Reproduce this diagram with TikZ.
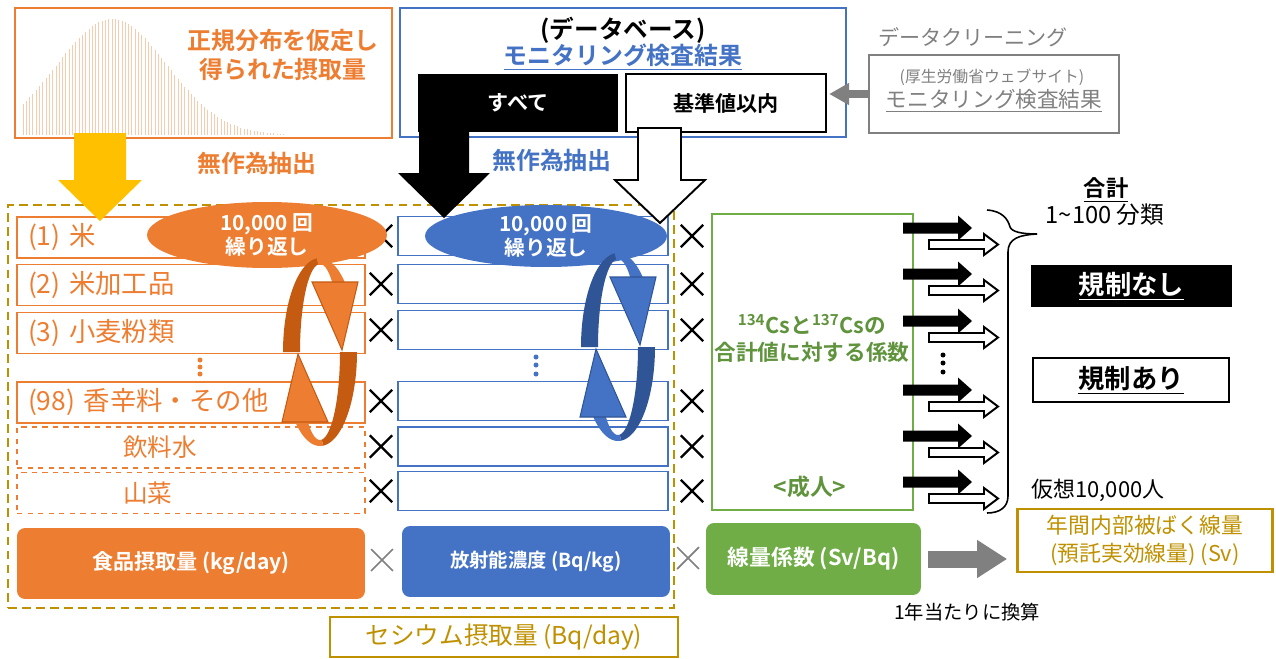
\documentclass[tikz,border=0pt]{standalone}
\usepackage{fontspec}
\setmainfont{Noto Sans CJK JP}[BoldFont={Noto Sans CJK JP Bold}]
\usetikzlibrary{shapes.geometric, shapes.misc, arrows.meta}

\definecolor{orangeC}{HTML}{ED7D31}
\definecolor{orangeD}{HTML}{C55A11}
\definecolor{blueC}{HTML}{4472C4}
\definecolor{blueD}{HTML}{2F5597}
\definecolor{greenC}{HTML}{70AD47}
\definecolor{goldC}{HTML}{BF9000}
\definecolor{grayC}{HTML}{808080}
\definecolor{yellowC}{HTML}{FFC000}

\begin{document}
\begin{tikzpicture}[x=0.02cm, y=-0.02cm,
  histbar/.style={draw=orangeC!40, line width=0.5pt},
  rowbox/.style={draw=orangeC, line width=1.1pt, minimum width=6.96cm, minimum height=0.82cm,
    text width=6.52cm, align=left, inner xsep=0.22cm, inner ysep=0pt, text=orangeC,
    font=\fontsize{15}{18}\selectfont},
  concrow/.style={draw=blueC, line width=0.9pt, minimum width=5.4cm, minimum height=0.78cm},
  times/.style={cross out, draw, line width=1.4pt, minimum size=0.4cm, inner sep=0pt},
  loop/.style={ellipse, inner sep=0pt, text=white, align=center,
    font=\bfseries\fontsize{11.8}{14}\selectfont},
  unitbox/.style={rounded corners=0.16cm, text=white, minimum width=6.96cm, minimum height=1.42cm,
    font=\bfseries\fontsize{12}{14}\selectfont},
  bighead/.style={font=\bfseries\fontsize{13.6}{17}\selectfont},
  greentext/.style={text=greenC!85!black, align=center, font=\bfseries\fontsize{12.3}{15.3}\selectfont}
]
\useasboundingbox (0,0) rectangle (1276,659);

% normal distribution of intake
\node[draw=orangeC, line width=1.3pt, minimum width=7.54cm, minimum height=2.6cm] (hist) at (203.5,73) {};
\foreach \i in {0,...,79} {
  \pgfmathsetmacro\bx{23+3.3*\i}
  \pgfmathsetmacro\bz{(\bx-112)/55}
  \pgfmathsetmacro\bh{116*exp(-0.5*\bz*\bz)}
  \draw[histbar] (\bx,135) -- (\bx,135-\bh);
}
\node[bighead, text=orangeC, align=center] (histtitle) at (283,55) {正規分布を仮定し\\得られた摂取量};
\node[bighead, text=orangeC] (randA) at (257,163) {無作為抽出};

% database
\node[draw=blueC, line width=1.4pt, minimum width=8.92cm, minimum height=2.58cm] (db) at (623,72.5) {};
\node[font=\bfseries\fontsize{14}{17}\selectfont] (dbtitle) at (623,30) {(データベース)};
\node[bighead, text=blueC] (dbname) at (623,57) {\underline{モニタリング検査結果}};
\node[fill=black, text=white, minimum width=4cm, minimum height=1.16cm,
  font=\bfseries\fontsize{12}{14}\selectfont] (all) at (518,103) {すべて};
\node[draw, fill=white, line width=0.9pt, minimum width=4cm, minimum height=1.16cm,
  font=\bfseries\fontsize{12}{14}\selectfont] (within) at (726,103) {基準値以内};
\node[bighead, text=blueC] (randB) at (552,160) {無作為抽出};

% web source
\node[text=grayC, font=\fontsize{12}{14}\selectfont] (clean) at (973,37) {データクリーニング};
\node[draw=grayC, line width=0.9pt, minimum width=5cm, minimum height=1.56cm] (web) at (994,94) {};
\node[text=grayC, font=\fontsize{9}{11}\selectfont] (webtop) at (992,77) {(厚生労働省ウェブサイト)};
\node[text=grayC, font=\fontsize{12.3}{14}\selectfont] (webname) at (994,101) {\underline{モニタリング検査結果}};
\draw[grayC, line width=0.18cm, -{Triangle[length=0.4cm, width=0.42cm]}] (web.west) -- ([xshift=-0.36cm]db.east |- web.west);

% cesium intake
\node[draw=goldC, line width=1.4pt, dash pattern=on 5pt off 3pt, minimum width=13.32cm, minimum height=8.06cm] (cs) at (341,406.5) {};

\node[rowbox] (f1) at (191,237.5) {(1) 米};
\node[rowbox] (f2) at (191,285) {(2) 米加工品};
\node[rowbox] (f3) at (191,333) {(3) 小麦粉類};
\node[rowbox] (f4) at (191,402.5) {(98) 香辛料・その他};
\node[rowbox, dashed, font=\fontsize{14}{17}\selectfont] (f5) at (191,447.5) {\hspace*{1.9cm}飲料水};
\node[rowbox, dashed, font=\fontsize{14}{17}\selectfont] (f6) at (191,493) {\hspace*{1.9cm}山菜};
\foreach \y in {360,367,374} \fill[orangeC] (200,\y) circle[radius=0.05cm];

\foreach \y [count=\i] in {236,284,330,401,446.5,491} {
  \node[concrow] (c\i) at (533,\y) {};
  \node[times] (xa\i) at (381,\y) {};
  \node[times] (xb\i) at (692,\y) {};
}
\foreach \y in {357,365,374} \fill[blueC] (536,\y) circle[radius=0.05cm];

\node[loop, fill=orangeC, minimum width=4.8cm, minimum height=1.32cm] (loopA) at (267,235) {10,000 回\\繰り返し};
\node[loop, fill=blueC, minimum width=4.84cm, minimum height=1.24cm] (loopB) at (546,236) {10,000 回\\繰り返し};

% repeat arrows
\foreach \dx/\dy/\dk/\lt in {0/0/orangeD/orangeC, 298/-5/blueD/blueC} {
  \begin{scope}[shift={(\dx,\dy)}]
    \fill[\dk] plot[domain=180:265, samples=30] ({320+37*cos(\x)}, {352+94*sin(\x)})
      -- plot[domain=265:180, samples=30] ({320+20*cos(\x)}, {352+88*sin(\x)}) -- cycle;
    \fill[\lt] plot[domain=265:312, samples=20] ({320+37*cos(\x)}, {352+94*sin(\x)})
      -- plot[domain=312:265, samples=20] ({320+20*cos(\x)}, {352+88*sin(\x)}) -- cycle;
    \filldraw[fill=\lt, draw=\dk, line width=0.6pt] (312,282) -- (358,282) -- (342,350) -- cycle;
    \fill[\dk] plot[domain=0:85, samples=30] ({320+37*cos(\x)}, {352+94*sin(\x)})
      -- plot[domain=85:0, samples=30] ({320+20*cos(\x)}, {352+88*sin(\x)}) -- cycle;
    \fill[\lt] plot[domain=85:132, samples=20] ({320+37*cos(\x)}, {352+94*sin(\x)})
      -- plot[domain=132:85, samples=20] ({320+20*cos(\x)}, {352+88*sin(\x)}) -- cycle;
    \filldraw[fill=\lt, draw=\dk, line width=0.6pt] (328,422) -- (282,422) -- (298,354) -- cycle;
  \end{scope}
}

% sampling arrows
\fill[yellowC] (74,133) -- (126,133) -- (126,180) -- (142,180) -- (100,221) -- (58,180) -- (74,180) -- cycle;
\fill[black] (419,130) -- (469,130) -- (469,173) -- (490,173) -- (444,218) -- (398,173) -- (419,173) -- cycle;
\draw[line width=1.1pt, fill=white] (638,128) -- (681,128) -- (681,180) -- (705,180) -- (660,223) -- (615,180) -- (638,180) -- cycle;

% dose coefficients
\node[draw=greenC, line width=1.1pt, minimum width=4.02cm, minimum height=5.92cm] (coef) at (812.5,362) {};
\node[greentext] (coeftitle) at (812,338.5) {\textsuperscript{134}Csと\textsuperscript{137}Csの\\合計値に対する係数};
\node[greentext, font=\bfseries\fontsize{13}{15}\selectfont] (adult) at (810,487) {<成人>};

\foreach \y in {228,274,321,390,436,482} {
  \fill (903,\y-5.5) -- (958,\y-5.5) -- (958,\y-12.5) -- (972,\y) -- (958,\y+12.5) -- (958,\y+5.5) -- (903,\y+5.5) -- cycle;
  \draw[line width=1.1pt, fill=white] (929,\y+12) -- (984,\y+12) -- (984,\y+6) -- (998,\y+16.5)
    -- (984,\y+27) -- (984,\y+21) -- (929,\y+21) -- cycle;
}
\foreach \y in {355,363,372} \fill (943,\y) circle[radius=0.05cm];

\draw[line width=0.9pt] (987,210) .. controls (1002,211) and (1008,219) .. (1010,227)
  .. controls (1012,232) and (1022,234) .. (1037,234);
\draw[line width=0.9pt] (1037,234) .. controls (1020,235) and (1008,238) .. (1008,252) -- (1008,496)
  .. controls (1008,507) and (1000,513) .. (987,513);

\node[font=\bfseries\fontsize{12.7}{15}\selectfont] (total) at (1106,190) {\underline{合計}};
\node[font=\fontsize{13.5}{16}\selectfont] (range) at (1105,215) {1\textasciitilde 100 分類};
\node[fill=black, text=white, minimum width=4.02cm, minimum height=0.84cm,
  font=\bfseries\fontsize{15}{18}\selectfont] (noreg) at (1131.5,286) {\underline{規制なし}};
\node[draw, line width=1.4pt, minimum width=3.92cm, minimum height=0.88cm,
  font=\bfseries\fontsize{15}{18}\selectfont] (reg) at (1131,380) {\underline{規制あり}};
\node[font=\fontsize{12.5}{14}\selectfont] (people) at (1098,490) {仮想10,000人};

% bottom line
\node[unitbox, fill=orangeC] (intake) at (191,563.5) {食品摂取量 (kg/day)};
\node[unitbox, fill=blueC, minimum width=5.36cm, font=\bfseries\fontsize{11}{13}\selectfont] (conc) at (536,561.5) {放射能濃度 (Bq/kg)};
\node[unitbox, fill=greenC, minimum width=4.3cm, minimum height=1.44cm, font=\bfseries\fontsize{12.4}{15}\selectfont] (dcoef) at (813.5,559) {線量係数 (Sv/Bq)};
\node[times, draw=grayC, line width=1pt] (xc1) at (382,560) {};
\node[times, draw=grayC, line width=1pt] (xc2) at (688,558) {};

\node[draw=goldC, line width=1.6pt, minimum width=5.1cm, minimum height=1.26cm, text=goldC, align=center,
  font=\fontsize{12.4}{15.9}\selectfont] (dose) at (1145,540.5) {年間内部被ばく線量\\(預託実効線量) (Sv)};
\draw[grayC, line width=0.34cm, -{Triangle[length=0.6cm, width=0.72cm]}, shorten <=0.14cm, shorten >=0.18cm]
  (dcoef.east) -- (dcoef.east -| dose.west);
\node[font=\fontsize{11}{13}\selectfont] (peryear) at (967,612) {1年当たりに換算};
\node[draw=goldC, line width=1.6pt, minimum width=6.96cm, minimum height=0.8cm, text=goldC,
  font=\fontsize{14}{17}\selectfont] (csday) at (504,637) {セシウム摂取量 (Bq/day)};
\end{tikzpicture}
\end{document}
